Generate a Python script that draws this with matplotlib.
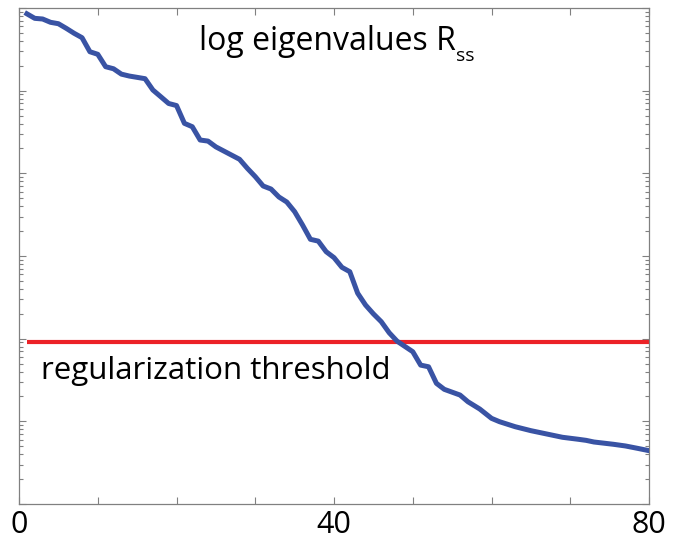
import numpy as np
import matplotlib
matplotlib.use('Agg')
import matplotlib.pyplot as plt
from matplotlib.ticker import LogLocator, NullFormatter, MultipleLocator

plt.rcParams['font.family'] = ['Open Sans', 'DejaVu Sans']

# eigenvalue index and log10 of eigenvalue
index = [1, 2, 3, 4, 5, 6, 7, 8, 9, 10, 11, 12, 13, 14, 16, 17, 18, 19, 20,
         21, 22, 23, 24, 25, 27, 28, 29, 30, 31, 32, 33, 34, 35, 36, 37, 38,
         39, 40, 41, 42, 43, 44, 45, 46, 47, 48, 50, 51, 52, 53, 54, 56, 57,
         58.5, 60, 61, 63, 65, 67, 69, 71, 72, 73, 75.5, 77, 78.5, 80]
log_eig = [5.93, 5.875, 5.867, 5.827, 5.81, 5.754, 5.694, 5.641, 5.471, 5.44,
           5.29, 5.265, 5.2, 5.177, 5.145, 5.008, 4.927, 4.845, 4.82,
           4.605, 4.564, 4.403, 4.39, 4.32, 4.22, 4.17, 4.06, 3.96, 3.847,
           3.81, 3.714, 3.653, 3.536, 3.375, 3.202, 3.18, 3.052, 2.98, 2.863,
           2.81, 2.55, 2.407, 2.3, 2.205, 2.072, 1.97, 1.842, 1.68, 1.66,
           1.46, 1.387, 1.318, 1.237, 1.149, 1.036, 0.996, 0.935, 0.887,
           0.847, 0.807, 0.783, 0.77, 0.75, 0.722, 0.702, 0.674, 0.645]
eigenvalues = 10.0 ** np.array(log_eig)

threshold = 90.0
threshold_range = [1, 80]

fig = plt.figure(figsize=(6.74, 5.41), dpi=100)
ax = fig.add_axes([0.0282, 0.0684, 0.9348, 0.9168])

ax.plot(threshold_range, [threshold, threshold], color='#ec2227', lw=3.0,
        solid_capstyle='butt', zorder=2)
ax.plot(index, eigenvalues, color='#3953a4', lw=3.6, solid_joinstyle='round',
        zorder=3)

ax.set_yscale('log')
ax.set_xlim(0, 80)
ax.set_ylim(1, 1e6)

ax.xaxis.set_major_locator(MultipleLocator(40))
ax.xaxis.set_minor_locator(MultipleLocator(10))
ax.yaxis.set_major_locator(LogLocator(base=10, numticks=10))
ax.yaxis.set_minor_locator(LogLocator(base=10, subs=np.arange(2, 10), numticks=20))
ax.yaxis.set_major_formatter(NullFormatter())
ax.yaxis.set_minor_formatter(NullFormatter())

grey = '#808080'
for s in ax.spines.values():
    s.set_color(grey)
    s.set_linewidth(0.9)
ax.tick_params(which='both', direction='in', top=True, right=True,
               color=grey, width=0.8)
ax.tick_params(which='major', length=5)
ax.tick_params(which='minor', length=3)
ax.tick_params(axis='x', which='minor', length=5)
ax.tick_params(axis='x', labelsize=22, pad=4, labelcolor='black')

title = ax.text(0.49, 0.915, 'log eigenvalues R', transform=ax.transAxes,
                ha='center', va='baseline', fontsize=23)
# subscript placed just after the R, below the baseline
ax.annotate('ss', xy=(1, 0), xycoords=title, xytext=(0, -2),
            textcoords='offset points', ha='left', va='baseline', fontsize=14)

ax.text(0.035, 0.268, 'regularization threshold', transform=ax.transAxes,
        ha='left', va='center', fontsize=22.5)

fig.savefig('out.png', dpi=100)
